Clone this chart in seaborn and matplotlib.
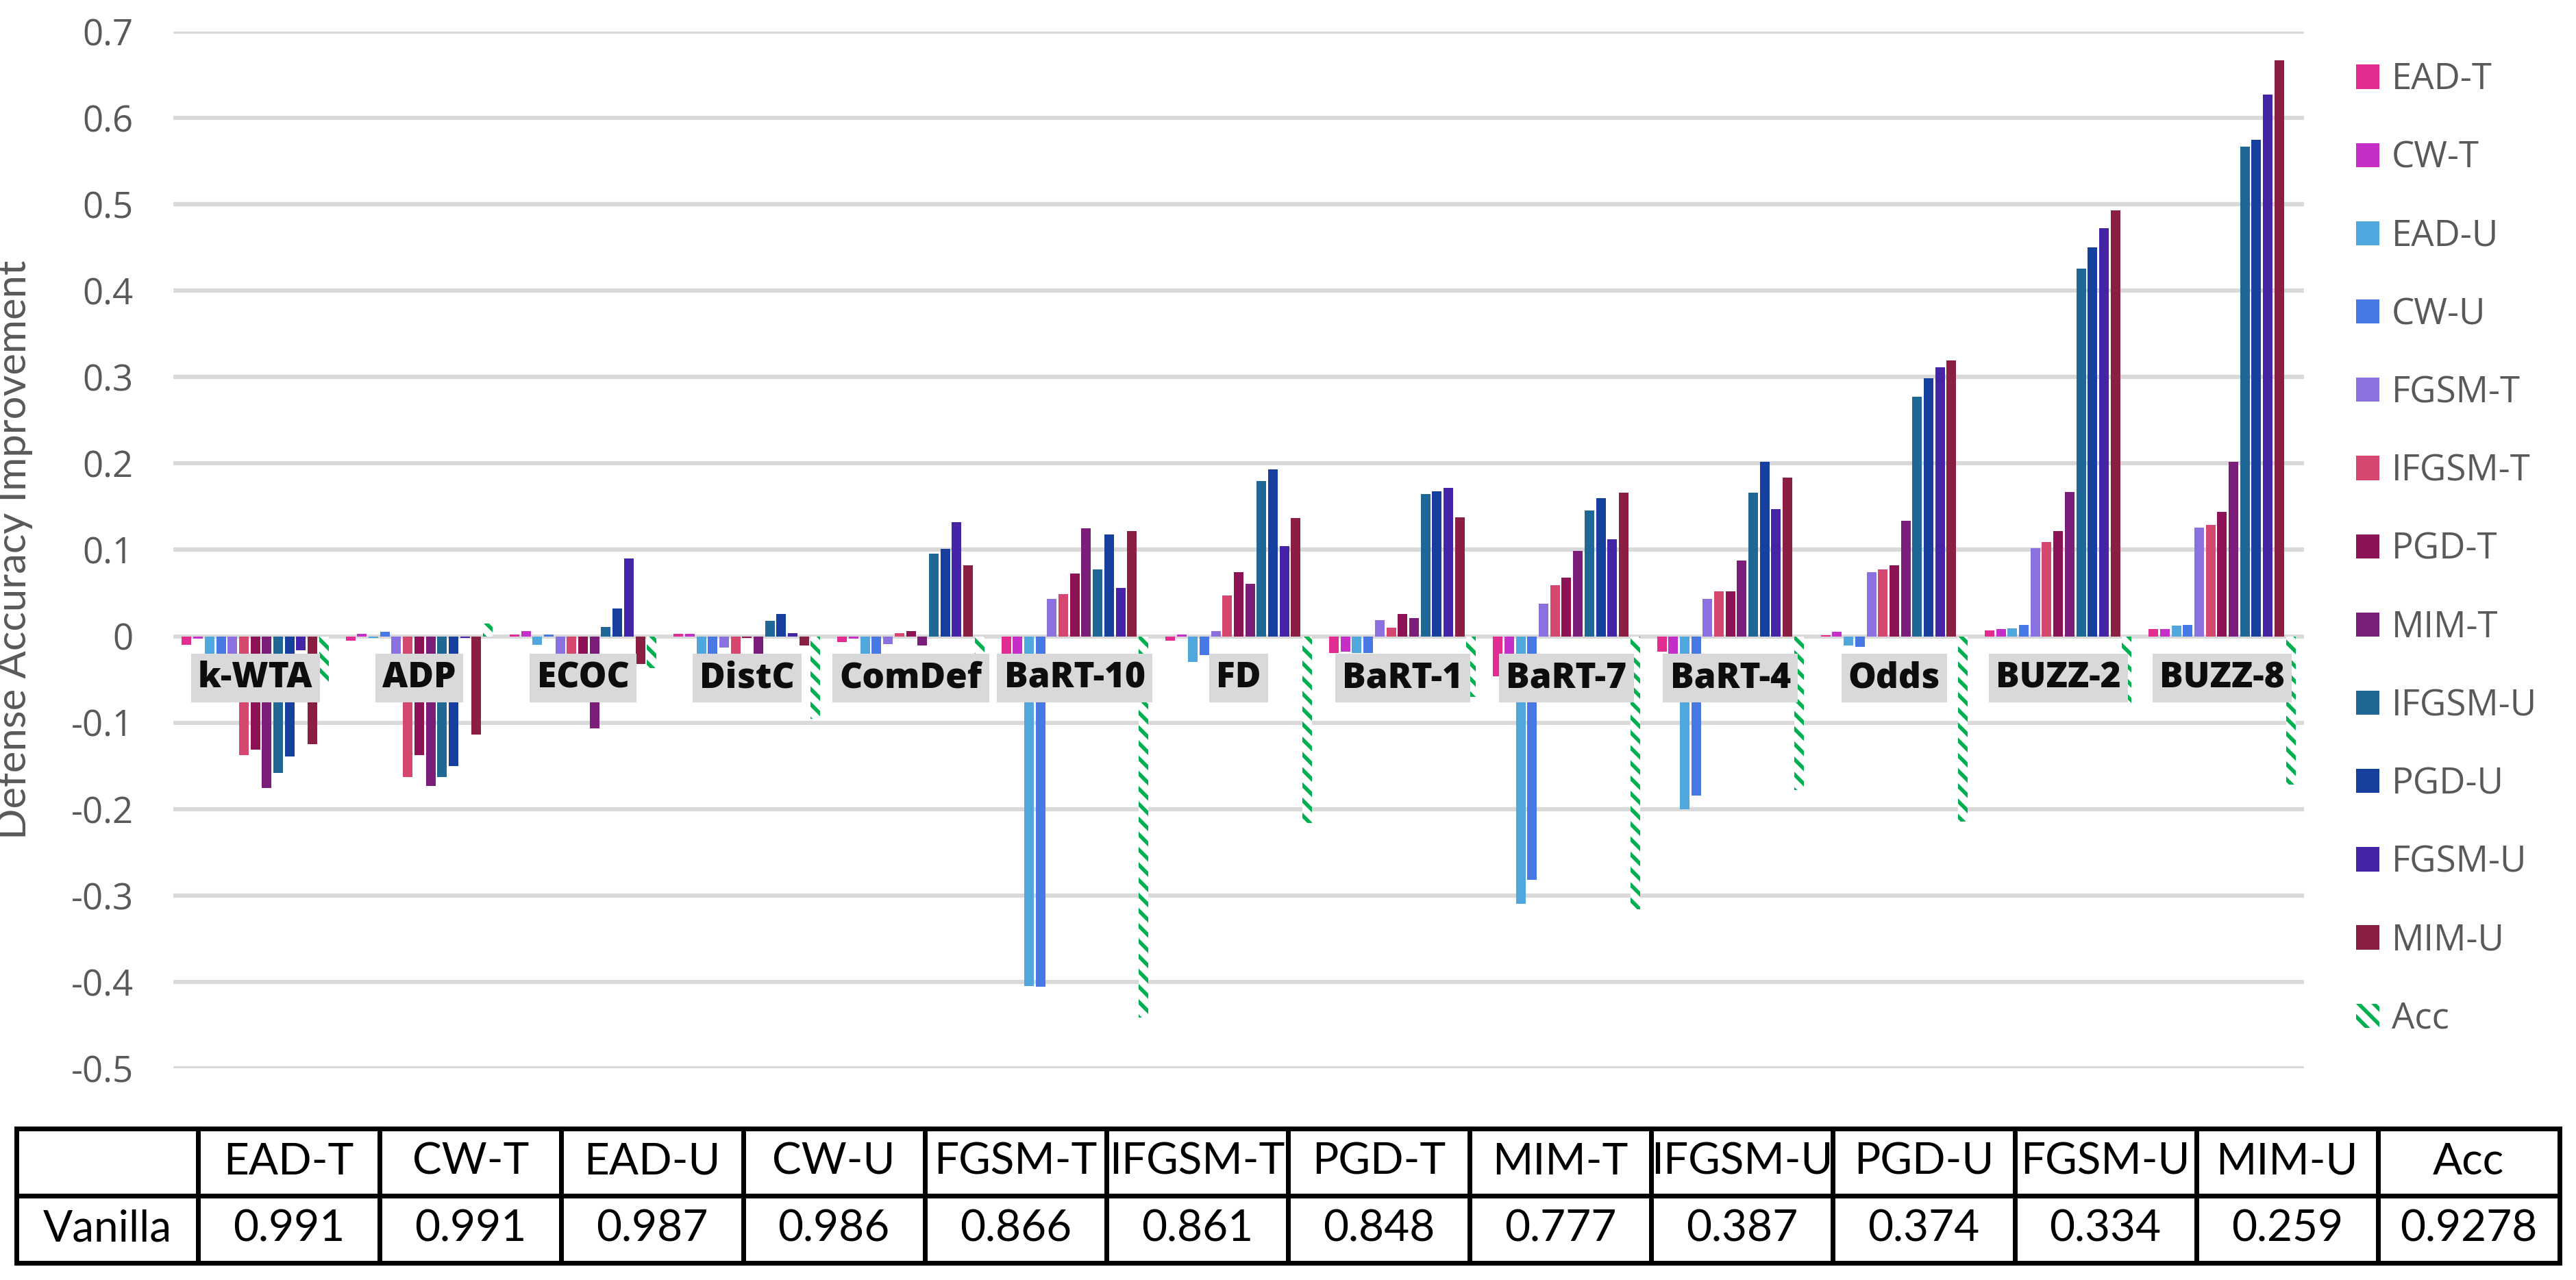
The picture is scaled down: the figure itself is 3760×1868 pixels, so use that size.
import pandas as pd
import numpy as np
import matplotlib.pyplot as plt
import seaborn as sns

# defenses (x groups) and attacks (hue levels)
defenses = ["k-WTA", "ADP", "ECOC", "DistC", "ComDef", "BaRT-10", "FD",
            "BaRT-1", "BaRT-7", "BaRT-4", "Odds", "BUZZ-2", "BUZZ-8"]
attacks = ["EAD-T", "CW-T", "EAD-U", "CW-U", "FGSM-T", "IFGSM-T", "PGD-T",
           "MIM-T", "IFGSM-U", "PGD-U", "FGSM-U", "MIM-U", "Acc"]

ead_t = [-0.010, -0.005, 0.002, 0.003, -0.007, -0.047, -0.005, -0.019, -0.046, -0.018, 0.001, 0.0065, 0.008]
cw_t = [-0.003, 0.003, 0.006, 0.003, -0.003, -0.030, 0.002, -0.018, -0.029, -0.021, 0.005, 0.008, 0.008]
ead_u = [-0.030, -0.002, -0.010, -0.032, -0.025, -0.4045, -0.030, -0.019, -0.310, -0.200, -0.0105, 0.009, 0.012]
cw_u = [-0.030, 0.005, 0.002, -0.025, -0.025, -0.406, -0.022, -0.019, -0.282, -0.1845, -0.012, 0.013, 0.013]
fgsm_t = [-0.030, -0.030, -0.030, -0.013, -0.009, 0.043, 0.006, 0.019, 0.038, 0.043, 0.0745, 0.102, 0.126]
ifgsm_t = [-0.1375, -0.163, -0.030, -0.025, 0.004, 0.0485, 0.047, 0.0097, 0.059, 0.052, 0.077, 0.109, 0.129]
pgd_t = [-0.131, -0.1375, -0.030, -0.002, 0.006, 0.073, 0.074, 0.026, 0.068, 0.052, 0.082, 0.122, 0.144]
mim_t = [-0.1756, -0.173, -0.107, -0.025, -0.011, 0.1246, 0.061, 0.021, 0.099, 0.088, 0.1335, 0.1667, 0.202]
ifgsm_u = [-0.158, -0.163, 0.011, 0.018, 0.096, 0.0777, 0.180, 0.165, 0.146, 0.166, 0.277, 0.4257, 0.567]
pgd_u = [-0.139, -0.150, 0.032, 0.026, 0.101, 0.118, 0.193, 0.168, 0.160, 0.202, 0.2985, 0.450, 0.575]
fgsm_u = [-0.016, -0.002, 0.090, 0.004, 0.132, 0.056, 0.104, 0.1715, 0.1125, 0.147, 0.3115, 0.4725, 0.627]
mim_u = [-0.125, -0.114, -0.032, -0.011, 0.0825, 0.122, 0.137, 0.138, 0.166, 0.184, 0.319, 0.4927, 0.667]
acc = [-0.054, 0.015, -0.037, -0.0955, -0.036, -0.441, -0.216, -0.070, -0.316, -0.178, -0.2144, -0.077, -0.1716]

# baseline accuracies shown in the table below the chart
vanilla = [0.991, 0.991, 0.987, 0.986, 0.866, 0.861, 0.848, 0.777, 0.387, 0.374, 0.334, 0.259, 0.9278]

colors = ["#E32C91", "#C42FC8", "#4FA7DE", "#4878E3", "#8B71E0", "#D6476F", "#8E1356",
          "#7B1E7A", "#1F6896", "#173F9E", "#4524A7", "#8A1F42", "#FFFFFF"]

series = [ead_t, cw_t, ead_u, cw_u, fgsm_t, ifgsm_t, pgd_t, mim_t,
          ifgsm_u, pgd_u, fgsm_u, mim_u, acc]
rows = []
for name, vals in zip(attacks, series):
    for d, v in zip(defenses, vals):
        rows.append({"Defense": d, "Attack": name, "Improvement": v})
df = pd.DataFrame(rows)

sns.set_theme(style="white")
plt.rcParams["font.family"] = ["Open Sans", "DejaVu Sans"]
plt.rcParams["axes.unicode_minus"] = False
plt.rcParams["hatch.linewidth"] = 2.0

fig = plt.figure(figsize=(18.8, 9.34), dpi=200)
ax = fig.add_axes([253 / 3760, 1 - 1559 / 1868, 3110 / 3760, 1513 / 1868])

sns.barplot(data=df, x="Defense", y="Improvement", hue="Attack", order=defenses,
            hue_order=attacks, palette=colors, width=0.907, gap=0.16,
            linewidth=0, saturation=1, legend=False, ax=ax)

# Acc series: white bars with green diagonal pattern
for bar in ax.containers[-1]:
    bar.set_facecolor("white")
    bar.set_edgecolor("#00B050")
    bar.set_hatch("\\\\\\")
    bar.set_linewidth(0)

ax.set_xlim(-0.5, len(defenses) - 0.5)
ax.set_ylim(-0.5, 0.7)
yt = np.round(np.arange(-0.5, 0.71, 0.1), 1)
ax.set_yticks(yt)
ax.set_yticklabels([f"{v:g}" if v != 0 else "0" for v in yt], fontsize=19, color="#595959")
ax.tick_params(axis="y", length=0, pad=21)
ax.set_xticks([])
ax.set_xlabel("")
ax.yaxis.grid(True, color="#D9D9D9", linewidth=2.2)
ax.set_axisbelow(True)
for s in ax.spines.values():
    s.set_visible(False)

ax.set_ylabel("Defense Accuracy Improvement", fontsize=21.5, color="#595959",
              family=["Lato", "DejaVu Sans"])
ax.yaxis.set_label_coords(-0.066, 0.5)

# group names in grey boxes
for i, d in enumerate(defenses):
    ax.text(i, -0.0484, d, ha="center", va="center", fontsize=18.5, fontweight=800,
            color="#0D0D0D", zorder=6,
            bbox=dict(boxstyle="square,pad=0.2", fc="#D9D9DB", ec="none"))

handles = [c.patches[0] for c in ax.containers]
ax.legend(handles, attacks, loc="upper left", bbox_to_anchor=(3439 / 3760, 1 - 90 / 1868),
          bbox_transform=fig.transFigure, frameon=False, fontsize=19,
          labelcolor="#595959", handlelength=0.65, handleheight=0.65,
          handletextpad=0.34, labelspacing=1.15, borderpad=0, borderaxespad=0)

# table of baseline accuracies
tax = fig.add_axes([24 / 3760, 1 - 1843 / 1868, 3712 / 3760, 196 / 1868])
tax.axis("off")
cell_text = [[""] + attacks, ["Vanilla"] + [f"{v:g}" for v in vanilla]]
tbl = tax.table(cellText=cell_text, cellLoc="center", bbox=[0, 0, 1, 1])
tbl.auto_set_font_size(False)
for cell in tbl.get_celld().values():
    cell.set_linewidth(2.5)
    cell.set_edgecolor("black")
    cell.get_text().set_fontsize(23)
    cell.get_text().set_family(["Lato", "DejaVu Sans"])
    cell.get_text().set_color("black")

fig.savefig("out.png", dpi=200)
